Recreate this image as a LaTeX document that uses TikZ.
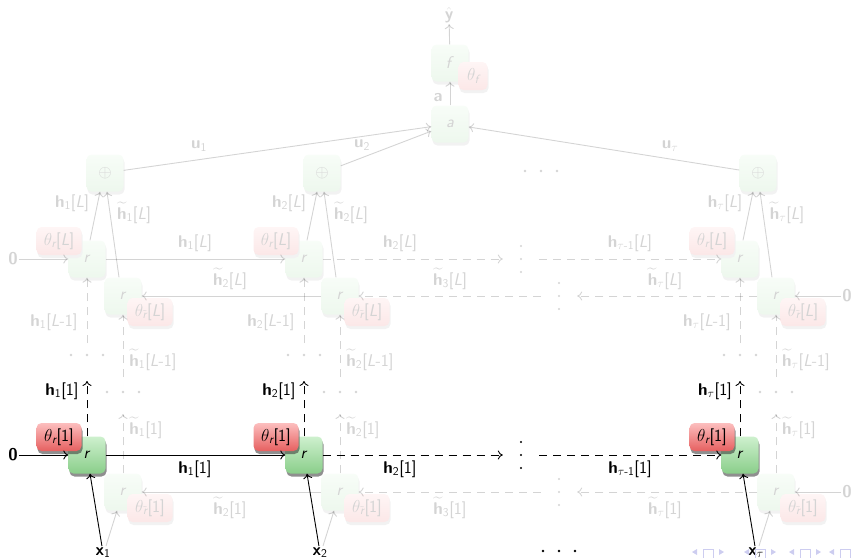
\documentclass[tikz,border=0pt]{standalone}
\usepackage{amsmath}
\usetikzlibrary{arrows.meta,shadows}

\definecolor{celltop}{RGB}{206,240,206}
\definecolor{cellbot}{RGB}{138,206,138}
\definecolor{partop}{RGB}{252,190,190}
\definecolor{parbot}{RGB}{230,96,96}
\definecolor{navblue}{RGB}{205,205,240}

% three dots in a row / in a column around a named coordinate
\newcommand\threedots[2][]{\foreach \d in {-16,0,16}{\fill[#1] ([xshift=\d pt]#2) circle (1.3pt);}}
\newcommand\stackdots[2][]{\foreach \d in {-13,0,13}{\fill[#1] ([yshift=\d pt]#2) circle (1.2pt);}}

\tikzset{
  every node/.style={font=\sffamily\fontsize{17}{20}\selectfont},
  lbl/.style={inner sep=1pt},
  faint/.style={opacity=0.17},
  castshadow/.style={drop shadow={shadow xshift=1pt,shadow yshift=-3pt,fill=black!80,opacity=0.55}},
  paleshadow/.style={drop shadow={shadow xshift=1pt,shadow yshift=-3pt,fill=black!5,opacity=1}},
  tile/.style={rounded corners=5pt, inner sep=2pt},
  cell/.style={tile, minimum width=37pt, minimum height=37pt, top color=celltop, bottom color=cellbot, castshadow},
  param/.style={tile, minimum width=45pt, minimum height=28pt, top color=partop, bottom color=parbot, castshadow},
  dimcell/.style={tile, minimum width=37pt, minimum height=37pt, top color=celltop!15, bottom color=cellbot!15, paleshadow, text=black!17},
  dimparam/.style={tile, minimum width=45pt, minimum height=28pt, top color=partop!15, bottom color=parbot!15, paleshadow, text=black!17},
  gap/.style={minimum width=36pt, minimum height=30pt, inner sep=0pt},
  link/.style={line width=0.9pt, -{To[length=5pt,width=9pt]}},
  dlink/.style={link, dash pattern=on 8pt off 6pt},
  navtri/.style={fill=navblue},
}

\begin{document}
\begin{tikzpicture}[x=1pt,y=-1pt]
\useasboundingbox (0,0) rectangle (854,557);

% attention and output head
\node[dimcell] (agg) at (450,124) {\textit{a}};
\node[dimcell] (out) at (450,63) {\textit{f}};
\node[dimparam, minimum width=29pt] (pf) at (473,76) {$\theta_{\textit{f}}$};
\node[lbl,faint] (yh) at (449,15) {$\hat{\textbf{y}}$};
\node[lbl,faint] (alab) at (438,98) {\textbf{a}};
\draw[link,faint] (agg) -- (out);
\draw[link,faint] (out) -- (yh);

% one column per time step
\foreach \X/\n/\s in {87/1/\text{1},304/2/\text{2},740/t/\tau}{
  % first layer
  \node[dimcell] (ba\n) at (\X+36,492) {\textit{r}};
  \node[dimparam] (qa\n) at (\X+63,508) {$\theta_{\tilde{\textit{r}}}$[1]};
  \node[cell] (fa\n) at (\X,455) {\textit{r}};
  \node[param] (pa\n) at (\X-28,437) {$\theta_{\textit{r}}$[1]};
  % last layer
  \node[dimcell] (bb\n) at (\X+36,296) {\textit{r}};
  \node[dimparam] (qb\n) at (\X+63,312) {$\theta_{\tilde{\textit{r}}}$[\textit{L}]};
  \node[dimcell] (fb\n) at (\X,259) {\textit{r}};
  \node[dimparam] (pb\n) at (\X-28,241) {$\theta_{\textit{r}}$[\textit{L}]};
  % merge
  \node[dimcell] (s\n) at (\X+18,173) {$\oplus$};
  % input
  \node[lbl,anchor=base] (x\n) at (\X+16,555) {$\textbf{x}_{\s}$};
  \draw[link] (x\n) -- ([xshift=3pt]fa\n.south);
  \draw[link,faint] ([xshift=3pt]x\n.north) -- ([xshift=-6pt]ba\n.south);
  % upward outputs of layer 1
  \coordinate (ua\n) at (\X,381);
  \draw[dlink] (fa\n) -- (ua\n);
  \node[lbl] (hua\n) at (\X-25,391) {\textbf{h}$_{\s}$[1]};
  \coordinate (ub\n) at (\X+36,414);
  \draw[dlink,faint] (ba\n) -- (ub\n);
  \node[lbl,faint] (hub\n) at (\X+59,428) {$\widetilde{\textbf{h}}_{\s}$[1]};
  \coordinate (ma\n) at (\X,355);
  \threedots[faint]{ma\n}
  \coordinate (mb\n) at (\X+36,392);
  \threedots[faint]{mb\n}
  % inputs of layer L
  \coordinate (lf\n) at (\X,343);
  \draw[dlink,faint] (lf\n) -- (fb\n);
  \node[lbl,faint] (hlf\n) at (\X-33,322) {\textbf{h}$_{\s}$[\textit{L}-1]};
  \coordinate (lb\n) at (\X+36,377);
  \draw[dlink,faint] (lb\n) -- (bb\n);
  \node[lbl,faint] (hlb\n) at (\X+66,360) {$\widetilde{\textbf{h}}_{\s}$[\textit{L}-1]};
  % into the merge and on to the attention
  \draw[link,faint] ([xshift=3pt]fb\n.north) -- ([xshift=-5pt]s\n.south);
  \draw[link,faint] ([xshift=-4pt]bb\n.north) -- ([xshift=2pt]s\n.south);
  \node[lbl,faint] (hsf\n) at (\X-15,203) {\textbf{h}$_{\s}$[\textit{L}]};
  \node[lbl,faint] (hsb\n) at (\X+47,213) {$\widetilde{\textbf{h}}_{\s}$[\textit{L}]};
  \draw[link,faint] (s\n) -- (agg);
}

% weights on the attention inputs
\node[lbl,faint] (u1) at (199,146) {\textbf{u}$_{\text{1}}$};
\node[lbl,faint] (u2) at (362,145) {\textbf{u}$_{\text{2}}$};
\node[lbl,faint] (ut) at (670,146) {\textbf{u}$_{\tau}$};
\coordinate (mtop) at (541,171);
\threedots[faint]{mtop}

% layer 1, forward direction
\node[lbl] (za) at (13,455) {\textbf{0}};
\node[gap] (va) at (521,455) {};
\stackdots{va}
\draw[link] (za) -- (fa1);
\draw[link] (fa1) -- (fa2);
\draw[dlink] (fa2) -- (va);
\draw[dlink] (va) -- (fat);
\node[lbl] (ha1) at (195,469) {\textbf{h}$_{\text{1}}$[1]};
\node[lbl] (ha2) at (400,469) {\textbf{h}$_{\text{2}}$[1]};
\node[lbl] (hat) at (630,469) {\textbf{h}$_{\tau\text{-1}}$[1]};

% layer 1, backward direction
\node[lbl,faint] (zb) at (847,492) {\textbf{0}};
\node[gap] (vb) at (559,492) {};
\stackdots[faint]{vb}
\draw[link,faint] (zb) -- (bat);
\draw[dlink,faint] (bat) -- (vb);
\draw[dlink,faint] (vb) -- (ba2);
\draw[link,faint] (ba2) -- (ba1);
\node[lbl,faint] (hb2) at (230,508) {$\widetilde{\textbf{h}}_{\text{2}}$[1]};
\node[lbl,faint] (hb3) at (450,508) {$\widetilde{\textbf{h}}_{\text{3}}$[1]};
\node[lbl,faint] (hbt) at (665,508) {$\widetilde{\textbf{h}}_{\tau}$[1]};

% layer L, forward direction
\node[lbl,faint] (zc) at (13,259) {\textbf{0}};
\node[gap] (vc) at (521,259) {};
\stackdots[faint]{vc}
\draw[link,faint] (zc) -- (fb1);
\draw[link,faint] (fb1) -- (fb2);
\draw[dlink,faint] (fb2) -- (vc);
\draw[dlink,faint] (vc) -- (fbt);
\node[lbl,faint] (hc1) at (195,243) {\textbf{h}$_{\text{1}}$[\textit{L}]};
\node[lbl,faint] (hc2) at (400,243) {\textbf{h}$_{\text{2}}$[\textit{L}]};
\node[lbl,faint] (hct) at (630,243) {\textbf{h}$_{\tau\text{-1}}$[\textit{L}]};

% layer L, backward direction
\node[lbl,faint] (zd) at (847,296) {\textbf{0}};
\node[gap] (vd) at (559,296) {};
\stackdots[faint]{vd}
\draw[link,faint] (zd) -- (bbt);
\draw[dlink,faint] (bbt) -- (vd);
\draw[dlink,faint] (vd) -- (bb2);
\draw[link,faint] (bb2) -- (bb1);
\node[lbl,faint] (hd2) at (230,279) {$\widetilde{\textbf{h}}_{\text{2}}$[\textit{L}]};
\node[lbl,faint] (hd3) at (450,279) {$\widetilde{\textbf{h}}_{\text{3}}$[\textit{L}]};
\node[lbl,faint] (hdt) at (665,279) {$\widetilde{\textbf{h}}_{\tau}$[\textit{L}]};

% remaining time steps
\coordinate (mbot) at (559,551);
\threedots{mbot}

% navigation marks along the lower edge
\foreach \c in {708,760,805,845}{
  \fill[navtri] (\c-16,552) -- (\c-11,549) -- (\c-11,555) -- cycle;
  \draw[navblue, line width=1pt] (\c-5,549) rectangle (\c+5,560);
  \fill[navtri] (\c+16,552) -- (\c+11,549) -- (\c+11,555) -- cycle;
}
\end{tikzpicture}
\end{document}
